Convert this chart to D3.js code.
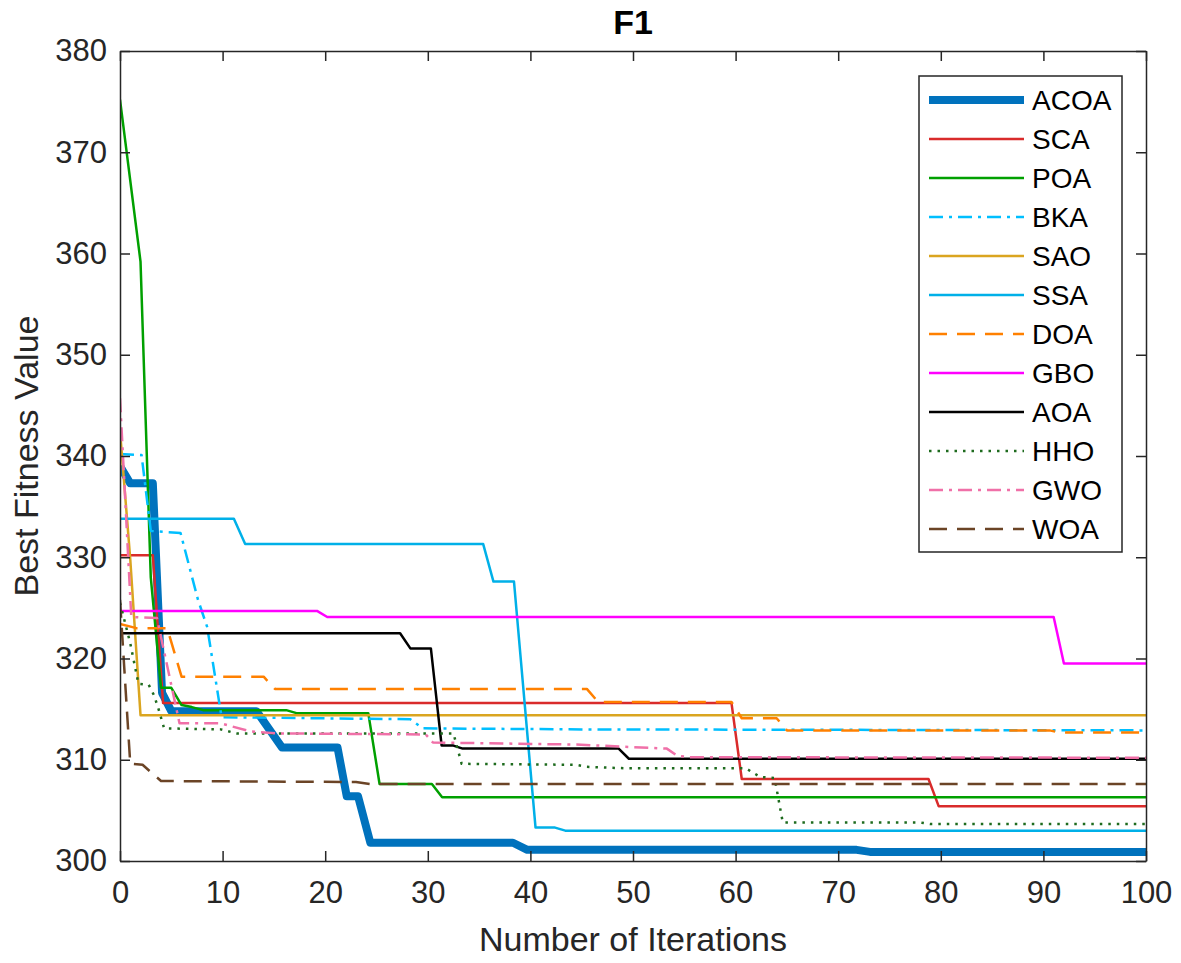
<!DOCTYPE html>
<html>
<head>
<meta charset="utf-8">
<script src="https://cdn.jsdelivr.net/npm/d3@7"></script>
<style>
  body { margin: 0; background: #fff; }
  text { font-family: "Liberation Sans", Arial, sans-serif; }
</style>
</head>
<body>
<svg id="chart" width="1181" height="963"></svg>
<script>
// convergence curves, [iteration, best fitness] knots
const ACOA = [[0,339],[1,337.3],[3.2,337.3],[4.1,316.6],[5,314.8],[13.3,314.8],[15.8,311.2],[21.2,311.2],[22.1,306.4],[23.2,306.4],[24.4,301.8],[38.3,301.8],[39.7,301.1],[71.8,301.1],[73.1,300.9],[100,300.9]];
const SCA  = [[0,330.2],[3.2,330.2],[4.2,315.6],[59.6,315.6],[60.6,308.1],[78.8,308.1],[79.8,305.4],[100,305.4]];
const POA  = [[0,375.2],[2,359.2],[3,328],[4,317.1],[5,317.1],[6,315.4],[7,315.2],[8.1,314.9],[16.2,314.9],[17.2,314.6],[24.2,314.6],[25.3,307.6],[30.4,307.6],[31.4,306.3],[100,306.3]];
const BKA  = [[0,340.2],[2.1,340.1],[3,332.6],[5.9,332.4],[7.6,325.8],[8.5,323.1],[9.9,314.2],[28.3,314.0],[29.5,313.1],[45,313.0],[100,312.9]];
const SAO  = [[0,342.5],[1,329.8],[2,314.4],[100,314.4]];
const SSA  = [[0,333.8],[11.1,333.8],[12.2,331.3],[35.4,331.3],[36.4,327.6],[38.4,327.6],[40.5,303.3],[42.4,303.3],[43.4,303.0],[100,303.0]];
const DOA  = [[0,323.4],[1.6,323.0],[4.6,323.0],[6,318.2],[14,318.2],[15.1,317.0],[45.5,317.0],[46.6,315.7],[59.6,315.7],[60.6,314.1],[64,314.1],[65,312.9],[90.6,312.9],[91.5,312.7],[100,312.7]];
const GBO  = [[0,324.7],[19.2,324.7],[20.2,324.1],[91,324.1],[92,319.5],[100,319.5]];
const AOA  = [[0,322.5],[27.3,322.5],[28.3,321.0],[30.3,321.0],[31.35,311.4],[32.5,311.4],[33.4,311.1],[48.6,311.1],[49.6,310.1],[100,310.1]];
const HHO  = [[0,325.5],[1,321.5],[1.8,317.5],[2.8,317.4],[3.3,316.4],[3.7,315.2],[4.3,313.1],[9.8,313.0],[11.4,312.6],[32.5,312.6],[33.3,309.6],[44.5,309.5],[45.5,309.3],[49.5,309.15],[61,309.15],[62.4,308.3],[63.8,308.2],[64.6,303.8],[78,303.8],[79,303.65],[100,303.65]];
const GWO  = [[0,345.7],[1.1,324.1],[3.6,324.0],[5.8,313.6],[9.8,313.6],[12.7,312.8],[15.3,312.6],[29.8,312.5],[30.5,311.7],[44.5,311.5],[53.3,311.1],[54.3,310.4],[55.5,310.25],[100,310.2]];
const WOA  = [[0,325.8],[1,309.6],[2.2,309.5],[4,307.9],[23,307.8],[24.4,307.6],[100,307.6]];

const names   = ["ACOA","SCA","POA","BKA","SAO","SSA","DOA","GBO","AOA","HHO","GWO","WOA"];
const curves  = [ACOA, SCA, POA, BKA, SAO, SSA, DOA, GBO, AOA, HHO, GWO, WOA];
const colors  = ["#0072BD","#D92B2B","#00A000","#00BFFF","#DAA520","#00B0E8","#FF8000","#FF00FF","#000000","#1E6B1E","#F070A8","#6B4426"];
const widths  = [8,2.5,2.5,2.5,2.5,2.5,2.5,2.5,2.5,2.5,2.5,2.5];
const dashes  = [null,null,null,"14,6,3,6",null,null,"18,10",null,null,"2.5,6","14,6,3,6","18,10"];

const xTicks = [0,10,20,30,40,50,60,70,80,90,100];
const yTicks = [300,310,320,330,340,350,360,370,380];

const svg = d3.select("#chart");
const pL = 120, pR = 1146, pT = 51, pB = 861;
const axisColor = "#262626";

const x = d3.scaleLinear().domain([0,100]).range([pL,pR]);
const y = d3.scaleLinear().domain([300,380]).range([pB,pT]);

svg.append("defs").append("clipPath").attr("id","plotclip")
  .append("rect").attr("x",pL).attr("y",pT).attr("width",pR-pL).attr("height",pB-pT);

const line = d3.line().x(d => x(d[0])).y(d => y(d[1]));

const plot = svg.append("g").attr("clip-path","url(#plotclip)");
curves.forEach((c, i) => {
  plot.append("path")
    .datum(c)
    .attr("d", line)
    .attr("fill","none")
    .attr("stroke", colors[i])
    .attr("stroke-width", widths[i])
    .attr("stroke-dasharray", dashes[i])
    .attr("stroke-linejoin","round");
});

// axes, MATLAB style: ticks inside, mirrored on top and right
const tl = 10;
const fmt = d3.format("d");
const gx = svg.append("g").attr("transform","translate(0," + pB + ")")
  .call(d3.axisBottom(x).tickValues(xTicks).tickFormat(fmt).tickSizeInner(-tl).tickSizeOuter(0).tickPadding(20));
const gxt = svg.append("g").attr("transform","translate(0," + pT + ")")
  .call(d3.axisTop(x).tickValues(xTicks).tickFormat("").tickSizeInner(-tl).tickSizeOuter(0));
const gy = svg.append("g").attr("transform","translate(" + pL + ",0)")
  .call(d3.axisLeft(y).tickValues(yTicks).tickFormat(fmt).tickSizeInner(-tl).tickSizeOuter(0).tickPadding(13));
const gyr = svg.append("g").attr("transform","translate(" + pR + ",0)")
  .call(d3.axisRight(y).tickValues(yTicks).tickFormat("").tickSizeInner(-tl).tickSizeOuter(0));

[gx, gxt, gy, gyr].forEach(g => {
  g.select(".domain").attr("stroke", axisColor).attr("stroke-width", 1.5);
  g.selectAll(".tick line").attr("stroke", axisColor).attr("stroke-width", 1.5);
  g.selectAll(".tick text").attr("fill", axisColor).style("font-size","31px")
    .style("font-family", "'Liberation Sans', Arial, sans-serif");
});

// labels
svg.append("text").attr("x",(pL+pR)/2).attr("y",951).attr("text-anchor","middle")
  .attr("fill",axisColor).style("font-size","34px").text("Number of Iterations");
svg.append("text").attr("transform","translate(38," + (pT+pB)/2 + ") rotate(-90)")
  .attr("text-anchor","middle").attr("fill",axisColor).style("font-size","34px").text("Best Fitness Value");
svg.append("text").attr("x",(pL+pR)/2).attr("y",34).attr("text-anchor","middle")
  .attr("fill","#000").style("font-size","34px").style("font-weight","bold").text("F1");

// legend
const lg = svg.append("g");
lg.append("rect").attr("x",919).attr("y",76).attr("width",203).attr("height",476)
  .attr("fill","#fff").attr("stroke",axisColor).attr("stroke-width",1.5);
names.forEach((n, i) => {
  const ly = 100 + i * 39;
  lg.append("line").attr("x1",929).attr("x2",1024).attr("y1",ly).attr("y2",ly)
    .attr("stroke",colors[i]).attr("stroke-width",widths[i]).attr("stroke-dasharray",dashes[i]);
  lg.append("text").attr("x",1032).attr("y",ly).attr("dy","0.35em")
    .attr("fill","#000").style("font-size","28px").text(n);
});
</script>
</body>
</html>
